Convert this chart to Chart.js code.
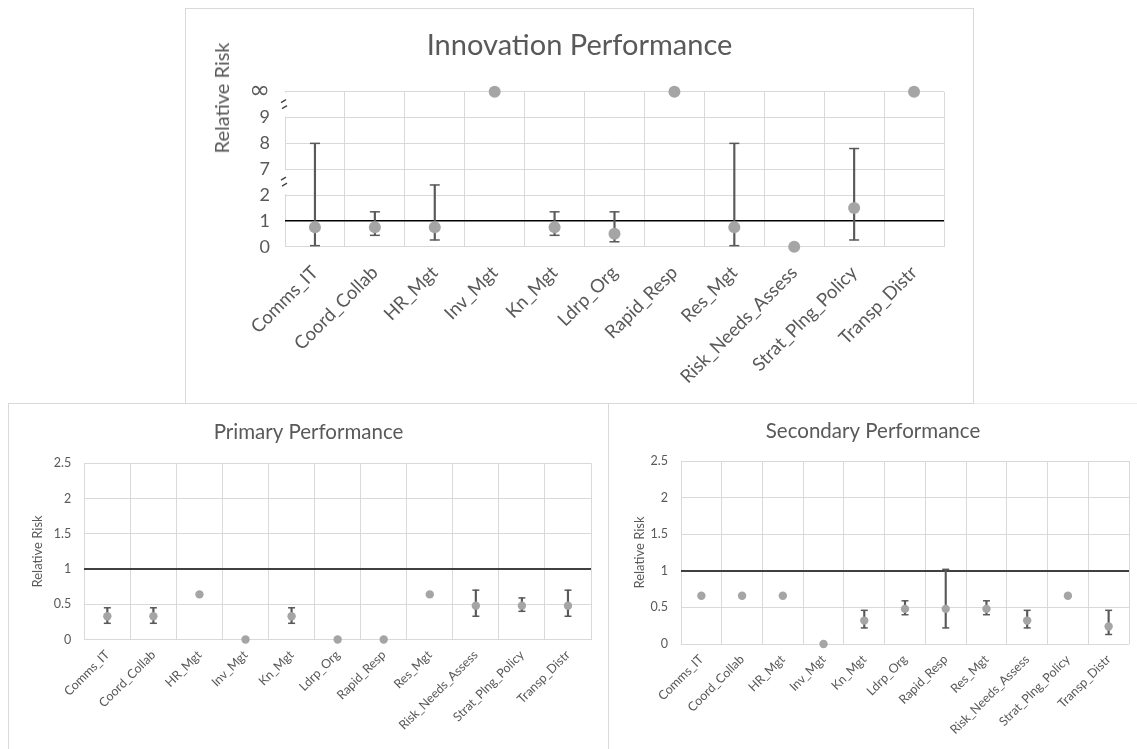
<!DOCTYPE html>
<html>
<head>
<meta charset="utf-8">
<script src="https://cdn.jsdelivr.net/npm/chart.js@4.4.1/dist/chart.umd.min.js"></script>
<style>
  html, body { margin: 0; padding: 0; background: #fff; width: 1137px; height: 749px; overflow: hidden; }
  .panel { position: absolute; box-sizing: border-box; background: #fff; overflow: hidden; }
  #secBox { left: 609px; top: 403px; width: 560px; height: 400px; border-top: 1px solid #ececec; }
  #primBox { left: 8px; top: 403px; width: 601px; height: 400px; border: 1px solid #d9d9d9; }
  #innovBox { left: 185px; top: 8px; width: 789px; height: 396px; border: 1px solid #d9d9d9; }
  canvas { position: absolute; left: 0; top: 0; }
  .ytitle { position: absolute; font-family: Lato, "Open Sans", sans-serif; color: #595959;
            white-space: nowrap; transform-origin: center center; transform: translate(-50%, -50%) rotate(-90deg); }
</style>
</head>
<body>
<div class="panel" id="secBox"><canvas id="secChart"></canvas></div>
<div class="panel" id="primBox"><canvas id="primChart"></canvas></div>
<div class="panel" id="innovBox">
  <canvas id="innovChart"></canvas>
  <div class="ytitle" style="left:35px; top:89px; font-size:20px;">Relative Risk</div>
</div>
<script>
// Shared categories
const categories = ['Comms_IT', 'Coord_Collab', 'HR_Mgt', 'Inv_Mgt', 'Kn_Mgt', 'Ldrp_Org',
  'Rapid_Resp', 'Res_Mgt', 'Risk_Needs_Assess', 'Strat_Plng_Policy', 'Transp_Distr'];

// Innovation performance: relative risk with 95% interval (Infinity = unbounded)
const innovationRR   = [0.75, 0.75, 0.75, Infinity, 0.75, 0.5, Infinity, 0.75, 0, 1.5, Infinity];
const innovationLow  = [0.04, 0.44, 0.26, null, 0.44, 0.19, null, 0.04, null, 0.26, null];
const innovationHigh = [8, 1.35, 3.95, null, 1.35, 1.35, null, 8, null, 7.8, null];
// Broken axis: tick values and their labels, evenly spaced
const innovationTickValues = [0, 1, 2, 7, 8, 9, Infinity];
const innovationTickLabels = ['0', '1', '2', '7', '8', '9', '\u221E'];

// Primary performance
const primaryRR   = [0.33, 0.33, 0.64, 0, 0.33, 0, 0, 0.64, 0.48, 0.48, 0.48];
const primaryLow  = [0.23, 0.23, null, null, 0.23, null, null, null, 0.33, 0.40, 0.33];
const primaryHigh = [0.45, 0.45, null, null, 0.45, null, null, null, 0.70, 0.59, 0.70];

// Secondary performance
const secondaryRR   = [0.66, 0.66, 0.66, 0, 0.32, 0.48, 0.48, 0.48, 0.32, 0.66, 0.24];
const secondaryLow  = [null, null, null, null, 0.22, 0.40, 0.22, 0.40, 0.22, null, 0.13];
const secondaryHigh = [null, null, null, null, 0.46, 0.59, 1.02, 0.59, 0.46, null, 0.46];

const smallTicks = [0, 0.5, 1, 1.5, 2, 2.5];

const FONT = 'Lato, "Open Sans", sans-serif';
const TEXT = '#595959';
const GRID = '#d9d9d9';
const DOT = '#a5a5a5';
const BAR = '#595959';

// Map a relative-risk value onto the evenly spaced broken axis
function toBrokenAxis(v) {
  if (v === null) return null;
  if (v === Infinity) return innovationTickValues.length - 1;
  for (let i = 0; i < innovationTickValues.length - 1; i++) {
    const a = innovationTickValues[i], b = innovationTickValues[i + 1];
    if (v >= a && v <= b) return b === Infinity ? i : i + (v - a) / (b - a);
  }
  return innovationTickValues.length - 1;
}

// Axis break markers and gaps in the left frame line
const axisBreaks = {
  id: 'axisBreaks',
  afterDraw(chart, args, opts) {
    if (!opts || !opts.gaps) return;
    const { ctx } = chart;
    const y = chart.scales.y;
    const x0 = chart.chartArea.left;
    ctx.save();
    opts.gaps.forEach(([a, b]) => {
      const ya = y.getPixelForValue(a), yb = y.getPixelForValue(b);
      ctx.fillStyle = '#fff';
      ctx.fillRect(x0 - 2, yb + 1, 4, ya - yb - 2);
      const cy = (ya + yb) / 2, cx = x0 - 1;
      ctx.strokeStyle = '#404040';
      ctx.lineWidth = 1.3;
      ctx.beginPath();
      ctx.moveTo(cx - 3, cy - 2); ctx.lineTo(cx + 2, cy - 5);
      ctx.moveTo(cx - 2, cy + 4); ctx.lineTo(cx + 3, cy + 1);
      ctx.stroke();
    });
    ctx.restore();
  }
};

function makeChart(id, spec) {
  const pairs = spec.low.map((l, i) => (l === null ? null : [spec.map(l), spec.map(spec.high[i])]));
  const canvas = document.getElementById(id);
  canvas.width = spec.w; canvas.height = spec.h;
  canvas.style.width = spec.w + 'px'; canvas.style.height = spec.h + 'px';
  return new Chart(canvas, {
    type: 'bar',
    data: {
      labels: categories,
      datasets: [
        { type: 'line', label: 'RR', data: spec.rr.map(spec.map), showLine: false, order: 0,
          pointRadius: spec.dot, pointHoverRadius: spec.dot, pointBackgroundColor: DOT,
          pointBorderWidth: 0, clip: false },
        { type: 'line', label: 'Upper', data: spec.high.map(spec.map), showLine: false, order: 1,
          pointStyle: 'line', pointRadius: spec.cap, pointBorderColor: BAR, pointBorderWidth: 1.5, clip: false },
        { type: 'line', label: 'Lower', data: spec.low.map(spec.map), showLine: false, order: 1,
          pointStyle: 'line', pointRadius: spec.cap, pointBorderColor: BAR, pointBorderWidth: 1.5, clip: false },
        { type: 'bar', label: 'CI', data: pairs, order: 2, backgroundColor: BAR,
          barThickness: 1.5, borderWidth: 0 }
      ]
    },
    options: {
      responsive: false,
      animation: false,
      events: [],
      layout: { padding: 0 },
      plugins: {
        legend: { display: false },
        tooltip: { enabled: false },
        title: {
          display: true, text: spec.title, color: TEXT,
          font: { family: FONT, size: spec.titleSize, weight: 'normal', lineHeight: 1.2 },
          padding: { top: spec.titleTop, bottom: spec.titleBottom }
        },
        axisBreaks: spec.breaks || {}
      },
      scales: {
        x: {
          offset: true,
          grid: { offset: true, color: GRID, lineWidth: 1, drawTicks: false, z: -1 },
          border: { display: false },
          ticks: { color: TEXT, font: { family: FONT, size: spec.catSize }, minRotation: 45, maxRotation: 45,
                   autoSkip: false, padding: spec.catPad },
          afterFit: s => { s.height = spec.xh; }
        },
        y: {
          min: 0, max: spec.max,
          afterBuildTicks: s => { s.ticks = spec.ticks.map(v => ({ value: v })); },
          grid: {
            color: c => (c.tick && c.tick.value === 1 ? spec.refColor : GRID),
            lineWidth: c => (c.tick && c.tick.value === 1 ? spec.refWidth : 1),
            drawTicks: false
          },
          border: { display: false },
          ticks: { color: TEXT, font: spec.tickFont, padding: spec.tickPad, callback: spec.tickLabel,
                   autoSkip: false },
          title: spec.yTitle ? { display: true, text: 'Relative Risk', color: TEXT,
                   font: { family: FONT, size: 13 }, padding: { top: spec.yTitlePad, bottom: 0 } } : { display: false },
          afterFit: s => { s.width = spec.yw; }
        },
        yRight: {
          position: 'right', display: true,
          grid: { display: false }, border: { display: false }, ticks: { display: false },
          afterFit: s => { s.width = spec.rw; }
        }
      }
    },
    plugins: [axisBreaks]
  });
}

makeChart('innovChart', {
  w: 787, h: 394, title: 'Innovation Performance', titleSize: 29, titleTop: 19.6, titleBottom: 28.3,
  rr: innovationRR, low: innovationLow, high: innovationHigh, map: toBrokenAxis,
  max: innovationTickValues.length - 1, ticks: innovationTickValues.map((_, i) => i),
  tickLabel: v => innovationTickLabels[v],
  tickFont: c => (c.index === innovationTickLabels.length - 1
    ? { family: '"DejaVu Sans", sans-serif', size: 25 }
    : { family: FONT, size: 18 }),
  tickPad: 15, catSize: 18.5, catPad: 15,
  yw: 99, rw: 29, xh: 156.3, dot: 6, cap: 5, refColor: '#000', refWidth: 1.5,
  yTitle: false, breaks: { gaps: [[5, 6], [2, 3]] }
});

makeChart('primChart', {
  w: 599, h: 345, title: 'Primary Performance', titleSize: 20.5, titleTop: 15.7, titleBottom: 19,
  rr: primaryRR, low: primaryLow, high: primaryHigh, map: v => v,
  max: 2.5, ticks: smallTicks, tickLabel: v => String(v), tickFont: { family: FONT, size: 12.5 },
  tickPad: 13, catSize: 12.5, catPad: 8,
  yw: 75.3, rw: 17, xh: 109.5, dot: 4.2, cap: 3.5, refColor: '#404040', refWidth: 2,
  yTitle: true, yTitlePad: 21
});

makeChart('secChart', {
  w: 528, h: 345, title: 'Secondary Performance', titleSize: 20.5, titleTop: 14.7, titleBottom: 17.7,
  rr: secondaryRR, low: secondaryLow, high: secondaryHigh, map: v => v,
  max: 2.5, ticks: smallTicks, tickLabel: v => String(v), tickFont: { family: FONT, size: 12.5 },
  tickPad: 13, catSize: 12.5, catPad: 8,
  yw: 72, rw: 8, xh: 105, dot: 4.2, cap: 3.5, refColor: '#404040', refWidth: 2,
  yTitle: true, yTitlePad: 23
});
</script>
</body>
</html>
